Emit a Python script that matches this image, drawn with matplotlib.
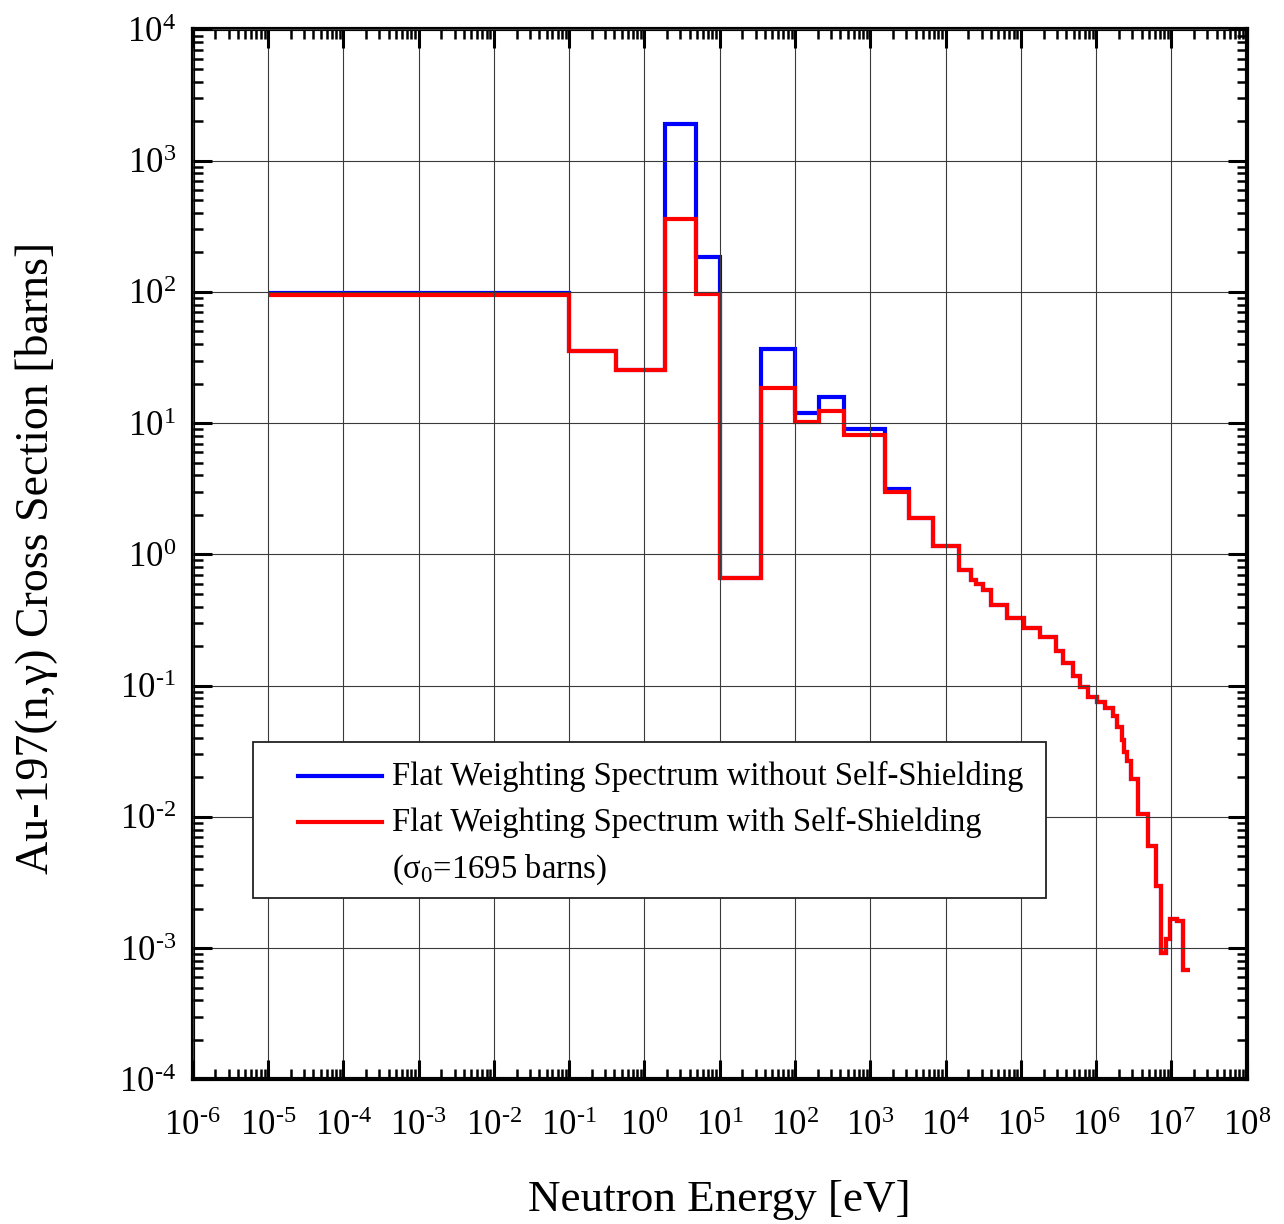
import matplotlib
matplotlib.use("Agg")
import math
import matplotlib.pyplot as plt
from matplotlib.ticker import LogLocator, FixedLocator, FuncFormatter, NullFormatter
from matplotlib.lines import Line2D
from matplotlib.patches import Rectangle

# ---------------- data ----------------
energy_edges = [1e-5, 0.1, 0.414, 1.86, 4.9, 10.1, 35.8, 100, 209, 445, 1560, 3290,
                6850, 15100, 21700, 25000, 31000, 39600, 65900, 1.1e5, 1.79e5, 2.92e5,
                3.66e5, 4.97e5, 6.1e5, 7.85e5, 1.02e6, 1.31e6, 1.69e6, 1.9e6, 2.18e6,
                2.34e6, 2.59e6, 2.9e6, 3.63e6, 4.84e6, 6.17e6, 7.34e6, 8.4e6, 9.5e6,
                1.17e7, 1.41e7, 1.77e7]

xs_without_ss = [99, 35.6, 25.4, 1905, 184, 0.656, 36.5, 11.9, 15.9, 9.1, 3.13, 1.90,
                 1.16, 0.76, 0.637, 0.59, 0.535, 0.411, 0.329, 0.276, 0.236, 0.183,
                 0.150, 0.119, 0.098, 0.082, 0.0752, 0.067, 0.0585, 0.0485, 0.0385,
                 0.031, 0.0266, 0.0193, 0.0106, 0.006, 0.00298, 0.00091, 0.00118,
                 0.00168, 0.0016, 0.00068]

xs_with_ss = [94, 35.6, 25.4, 360, 96, 0.656, 18.7, 10.2, 12.4, 8.1, 3.0, 1.88,
              1.16, 0.76, 0.637, 0.59, 0.535, 0.411, 0.329, 0.276, 0.236, 0.183,
              0.150, 0.119, 0.098, 0.082, 0.0752, 0.067, 0.0585, 0.0485, 0.0385,
              0.031, 0.0266, 0.0193, 0.0106, 0.006, 0.00298, 0.00091, 0.00118,
              0.00168, 0.0016, 0.00068]

x_decades = list(range(-6, 9))
y_decades = list(range(-4, 5))

label_without = "Flat Weighting Spectrum without Self-Shielding"
label_with = "Flat Weighting Spectrum with Self-Shielding"
label_sigma = "(σ$_{0}$=1695 barns)"

# ---------------- style ----------------
plt.rcParams['font.family'] = ['Liberation Serif', 'DejaVu Serif']
plt.rcParams['mathtext.fontset'] = 'custom'
plt.rcParams['mathtext.rm'] = 'Liberation Serif'
plt.rcParams['mathtext.it'] = 'Liberation Serif:italic'
plt.rcParams['mathtext.bf'] = 'Liberation Serif:bold'

fig = plt.figure(figsize=(12.84, 12.24), dpi=100)
ax = fig.add_axes([0.1501, 0.1182, 0.8209, 0.8577])

ax.stairs(xs_without_ss, energy_edges, baseline=None, color='#0000ff', linewidth=3.0)
ax.stairs(xs_with_ss, energy_edges, baseline=None, color='#ff0000', linewidth=3.0)

ax.set_xscale('log')
ax.set_yscale('log')
ax.set_xlim(10.0 ** x_decades[0], 10.0 ** x_decades[-1])
ax.set_ylim(10.0 ** y_decades[0], 10.0 ** y_decades[-1])

ax.xaxis.set_major_locator(FixedLocator([10.0 ** d for d in x_decades]))
ax.yaxis.set_major_locator(FixedLocator([10.0 ** d for d in y_decades]))
ax.xaxis.set_minor_locator(LogLocator(base=10, subs=range(2, 10), numticks=100))
ax.yaxis.set_minor_locator(LogLocator(base=10, subs=range(2, 10), numticks=100))
ax.xaxis.set_minor_formatter(NullFormatter())
ax.yaxis.set_minor_formatter(NullFormatter())

def fmt(v, pos):
    e = int(round(math.log10(v)))
    return r'$\mathregular{10^{\text{%d}}}$' % e

ax.xaxis.set_major_formatter(FuncFormatter(fmt))
ax.yaxis.set_major_formatter(FuncFormatter(fmt))

ax.tick_params(which='both', direction='in', top=True, right=True)
ax.tick_params(which='major', length=13.5, width=2.2, labelsize=25)
ax.tick_params(which='minor', length=7, width=1.8)
ax.tick_params(axis='x', which='major', pad=22)
ax.tick_params(axis='y', which='major', pad=12)

for s in ax.spines.values():
    s.set_linewidth(3)

ax.grid(True, which='major', color='#3a3a3a', linewidth=0.8)
ax.set_axisbelow(False)

ax.set_xlabel("Neutron Energy [eV]", fontsize=32.5)
ax.set_ylabel("Au-197(n,γ) Cross Section [barns]", fontsize=33)
ax.xaxis.set_label_coords(0.5, -0.096)
ax.yaxis.set_label_coords(-0.128, 0.497)

# ---------------- legend (manual box) ----------------
box = Rectangle((0.0572, 0.1727), 0.8096 - 0.0572, 0.3213 - 0.1727,
                transform=ax.transAxes, facecolor='white', edgecolor='#222222',
                linewidth=1.3, zorder=5)
ax.add_patch(box)
rows = [(0.2889, '#0000ff', label_without), (0.2451, '#ff0000', label_with)]
for yy, col, lab in rows:
    ax.add_line(Line2D([0.0999, 0.1800], [yy, yy], transform=ax.transAxes,
                       color=col, linewidth=3.0, zorder=6))
    ax.text(0.189, yy, lab, transform=ax.transAxes, fontsize=23.5,
            va='center', ha='left', zorder=7)
ax.text(0.189, 0.1994, label_sigma, transform=ax.transAxes, fontsize=23.5,
        va='center', ha='left', zorder=7)

fig.savefig("out.png", dpi=100)
